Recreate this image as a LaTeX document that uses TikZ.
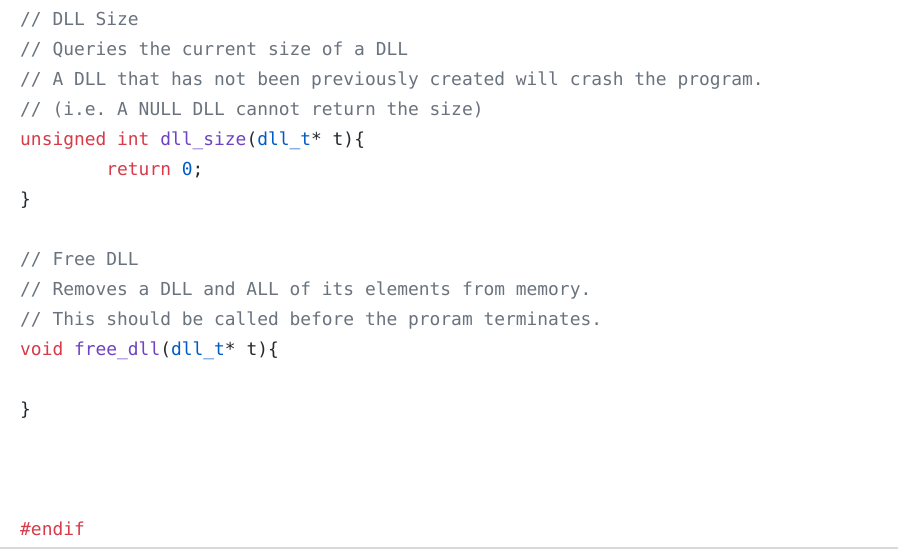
\documentclass[tikz,border=0pt]{standalone}
\usepackage{fontspec}
\setmonofont{DejaVu Sans Mono}
\definecolor{cmt}{HTML}{6A737D}
\definecolor{kw}{HTML}{D73A49}
\definecolor{fn}{HTML}{6F42C1}
\definecolor{ty}{HTML}{005CC5}
\definecolor{txt}{HTML}{24292E}
\tikzset{code/.style={anchor=base west,inner sep=0pt,text=txt,font=\ttfamily\fontsize{17.9}{20}\selectfont}}
\begin{document}
\begin{tikzpicture}[x=1pt,y=1pt]
\useasboundingbox[fill=white] (0,0) rectangle (898,560);
\newcommand{\codeln}[3]{\node[code] (#1) at (20,{560-#2}) {#3};}
\codeln{l1}{26}{\textcolor{cmt}{// DLL Size}}
\codeln{l2}{56}{\textcolor{cmt}{// Queries the current size of a DLL}}
\codeln{l3}{86}{\textcolor{cmt}{// A DLL that has not been previously created will crash the program.}}
\codeln{l4}{116}{\textcolor{cmt}{// (i.e. A NULL DLL cannot return the size)}}
\codeln{l5}{146}{\textcolor{kw}{unsigned int} \textcolor{fn}{dll\_size}(\textcolor{ty}{dll\_t}* t)\{}
\codeln{l6}{176}{\hphantom{xxxxxxxx}\textcolor{kw}{return} \textcolor{ty}{0};}
\codeln{l7}{206}{\}}
\codeln{l8}{266}{\textcolor{cmt}{// Free DLL}}
\codeln{l9}{296}{\textcolor{cmt}{// Removes a DLL and ALL of its elements from memory.}}
\codeln{l10}{326}{\textcolor{cmt}{// This should be called before the proram terminates.}}
\codeln{l11}{356}{\textcolor{kw}{void} \textcolor{fn}{free\_dll}(\textcolor{ty}{dll\_t}* t)\{}
\codeln{l12}{416}{\}}
\codeln{l13}{536}{\textcolor{kw}{\#endif}}
\draw[draw=black!15,line width=1.5pt] (0,12) -- (898,12);
\end{tikzpicture}
\end{document}
